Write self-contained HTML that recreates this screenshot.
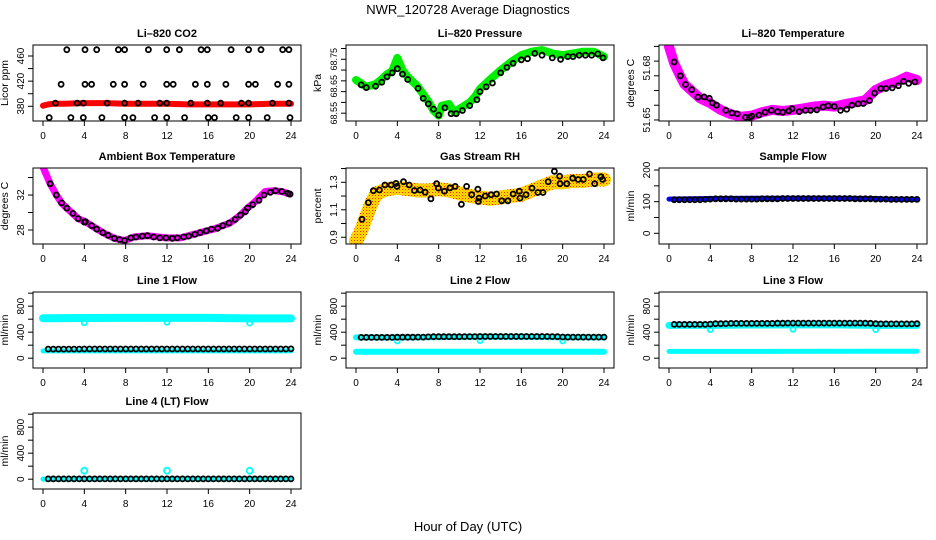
<!DOCTYPE html>
<html><head><meta charset="utf-8"><style>
html,body{margin:0;padding:0;background:#fff}
svg{display:block}
text{font-family:"Liberation Sans",sans-serif}
</style></head><body>
<svg id="chart" width="936" height="540" viewBox="0 0 936 540" xmlns="http://www.w3.org/2000/svg">
<defs>
<pattern id="rhpat" width="3" height="3" patternUnits="userSpaceOnUse"><rect width="3" height="3" fill="#ffe000"/><rect x="0" y="0" width="1" height="1" fill="#ff2000"/><rect x="1.5" y="1.5" width="1" height="1" fill="#ff8000"/></pattern>
</defs>
<text x="468" y="14" text-anchor="middle" font-size="13">NWR_120728  Average Diagnostics</text>
<text x="468" y="531" text-anchor="middle" font-size="13">Hour of Day (UTC)</text>
</svg>
<script>
// ---- data ----
const xTicks = [0,4,8,12,16,20,24];
// CO2
const co2BandHours = [0,0.5,1,2,4,6,8,10,12,14,16,18,20,22,24];
const co2BandValues = [381,383,384,384,385,385,384,384,384,383,383,383,383,384,384];
const co2BlackHours = [2.3,4.06,5.2,7.3,7.9,10.2,11.97,13.2,15.3,15.9,18.2,19.9,21.1,23.2,23.8,
 1.75,4.06,4.7,6.8,7.9,9.7,11.97,12.6,14.75,15.9,17.7,19.9,20.55,22.7,23.8,
 1.2,3.3,3.9,6.2,7.9,9.2,11.3,11.97,14.3,15.9,17.2,19.2,19.9,22.2,23.8,
 0.6,2.7,3.9,5.7,7.9,8.7,10.8,11.97,13.7,16,16.6,18.7,19.9,21.7,23.9];
const co2BlackValues = [470,470,470,470,470,470,470,470,470,470,470,470,470,470,470,
 415,415,415,415,415,415,415,415,415,415,415,415,415,415,415,
 385,385,385,385,385,385,385,385,385,385,385,385,385,385,385,
 362,362,362,362,362,362,362,362,362,362,362,362,362,362,362];
// Pressure
const presBandHours = [0,1,1.9,2.5,3,3.5,4,4.5,5,6,6.5,7,7.5,8,8.3,9,9.5,10,11,11.5,12,12.5,13,14,15,16,17,18,19,20,21,22,23,24];
const presBandValues = [68.673,68.648,68.658,68.676,68.695,68.707,68.755,68.71,68.685,68.648,68.62,68.594,68.56,68.541,68.578,68.584,68.553,68.566,68.59,68.61,68.64,68.658,68.676,68.71,68.74,68.765,68.778,68.784,68.772,68.765,68.772,68.778,68.778,68.76];
const presBlackHours = [0.5,1,1.9,2.5,3,3.5,4,4.5,5,6,6.5,7,7.5,8,8.6,9.2,9.7,10.3,11,11.7,12,12.6,13.2,14,14.6,15.2,16,16.6,17.3,18,19,19.8,20.5,21,21.6,22.2,22.8,23.4,23.9];
const presBlackValues = [68.655,68.645,68.65,68.665,68.685,68.7,68.715,68.695,68.675,68.642,68.605,68.585,68.565,68.543,68.57,68.548,68.548,68.56,68.578,68.6,68.63,68.648,68.662,68.7,68.72,68.735,68.748,68.752,68.772,68.765,68.755,68.75,68.76,68.76,68.765,68.765,68.765,68.77,68.755];
// Li-820 temperature
const ltBandHours = [0,0.5,1,1.5,2,3,4,5,6,7,8,9,10,11,12,13,14,15,16,17,18,19,20,21,22,23,24];
const ltBandValues = [51.6923,51.6827,51.6764,51.6706,51.6679,51.6625,51.6596,51.6558,51.6533,51.6519,51.6525,51.6544,51.6558,51.6552,51.6558,51.6567,51.6577,51.6583,51.6577,51.6591,51.6602,51.6615,51.6673,51.6702,51.6721,51.675,51.6731];
const ltBlackHours = [0.5,1.1,1.6,2.2,2.8,3.4,3.9,4.2,4.6,5.5,6.1,6.6,7.4,7.8,8,8.7,9.3,9.9,10.5,11,11.6,11.9,12.6,13.2,13.7,14.3,14.9,15.4,16,16.6,17.2,17.7,18.3,18.8,19.4,19.9,20.5,21,21.6,22.2,22.7,23.2,23.8];
const ltBlackValues = [51.6835,51.6755,51.6705,51.6675,51.6632,51.6633,51.6625,51.6598,51.6585,51.6555,51.654,51.6535,51.6515,51.6515,51.6522,51.6528,51.6545,51.6555,51.6548,51.6545,51.6553,51.6565,51.6548,51.6555,51.6555,51.6558,51.6575,51.6582,51.6578,51.6555,51.6562,51.6585,51.6593,51.6595,51.6612,51.6655,51.6682,51.6682,51.6685,51.6698,51.6723,51.6712,51.672];
// Ambient box temperature
const ambBandHours = [0,0.7,1.3,1.8,2.3,3.4,4.1,4.7,5.8,6.9,7.9,8.8,10.1,11.9,13.3,15.2,16.5,18.1,19.1,19.8,20.5,21.5,22.3,23.1,23.9];
const ambBandValues = [35.2,33.3,32.0,31.1,30.5,29.3,28.95,28.5,27.7,27.05,26.8,27.2,27.35,27.1,27.1,27.7,28.1,28.8,29.7,30.5,31.2,32.4,32.5,32.4,32.1];
const ambBlackHours = [0.7,1.3,1.8,2.3,2.9,3.4,4.0,4.1,4.7,5.2,5.8,6.3,6.9,7.4,7.9,8.5,9.0,9.6,10.1,10.7,11.3,11.9,12.5,13.0,13.6,14.1,14.7,15.2,15.8,16.3,16.9,17.4,18.0,18.6,19.1,19.6,19.8,20.3,20.9,21.4,22.0,22.5,23.1,23.7,23.9];
const ambBlackValues = [33.3,32.0,31.1,30.5,29.9,29.3,28.9,28.95,28.5,28.1,27.7,27.4,27.05,26.9,26.8,27.1,27.2,27.3,27.35,27.2,27.1,27.1,27.05,27.1,27.2,27.3,27.5,27.7,27.9,28.1,28.2,28.5,28.8,29.2,29.7,30.1,30.5,30.9,31.4,32.0,32.3,32.5,32.4,32.2,32.1];
// Gas stream RH
const rhBandHours = [0,0.5,1,1.5,2,3,4,5,6,7,8,9,10,11,12,13,14,15,16,17,18,19,20,21,22,23,24];
const rhBandValues = [0.87,0.95,1.05,1.15,1.22,1.25,1.26,1.25,1.24,1.24,1.25,1.24,1.22,1.2,1.19,1.18,1.19,1.2,1.21,1.24,1.27,1.3,1.3,1.31,1.31,1.32,1.32];
const rhBlackHours = [0.58,1.2,1.68,2.26,2.8,3.4,3.87,3.97,4.6,5.15,5.65,6.2,6.7,7.25,7.8,7.97,8.55,9.1,9.6,10.2,10.7,11.2,11.8,11.84,11.9,12.5,13.07,13.6,14.1,14.7,15.2,15.8,15.87,16.45,17.03,17.6,18.1,18.6,19.2,19.7,19.74,20.4,20.97,21.5,22.0,22.6,23.1,23.7,23.87];
const rhBlackValues = [1.031,1.152,1.239,1.244,1.28,1.28,1.292,1.27,1.304,1.28,1.24,1.244,1.228,1.18,1.29,1.258,1.235,1.26,1.27,1.14,1.27,1.21,1.25,1.16,1.185,1.2,1.21,1.215,1.165,1.165,1.215,1.235,1.185,1.21,1.258,1.226,1.226,1.304,1.38,1.344,1.29,1.29,1.33,1.32,1.32,1.36,1.29,1.34,1.32];
// Flows (shared black-circle hours)
const flowHours = [0.5,1,1.5,2,2.5,3,3.5,4,4.5,5,5.5,6,6.5,7,7.5,8,8.5,9,9.5,10,10.5,11,11.5,12,12.5,13,13.5,14,14.5,15,15.5,16,16.5,17,17.5,18,18.5,19,19.5,20,20.5,21,21.5,22,22.5,23,23.5,24];
const sampleBandHours = [0,4,8,12,16,20,21,24];
const sampleBandValues = [108,110,111,111,111,110,108,107];
const sampleBlack = [106,106,106,106,106,106,107,108,109,109,109,109,108,108,108,108,108,109,109,109,109,110,110,110,110,110,110,110,110,110,110,110,110,110,110,109,109,109,109,108,108,108,107,107,107,107,107,107];
const line1HiHours = [0,4,8,12,16,20,24];
const line1HiValues = [615,618,620,620,620,612,612];
const line1LoHours = [0,24];
const line1LoValues = [112,112];
const line1DipHours = [4,12,20];
const line1DipValues = [545,550,540];
const line1Black = [140,140,140,140,140,140,140,142,142,142,142,142,142,142,142,142,142,142,142,142,142,142,142,142,142,142,142,142,142,142,142,142,142,142,142,142,142,142,142,142,142,142,142,142,142,142,142,143];
const line2HiHours = [0,4,8,12,16,20,24];
const line2HiValues = [320,318,325,330,330,322,320];
const line2LoHours = [0,24];
const line2LoValues = [100,100];
const line2DipHours = [4,12,20];
const line2DipValues = [265,270,265];
const line2Black = [320,320,320,320,320,320,320,322,322,322,322,325,325,328,330,330,330,330,330,330,332,332,332,334,334,334,334,334,334,334,334,334,334,334,334,334,334,332,330,326,324,324,324,324,324,324,324,324];
const line3HiHours = [0,4,8,12,16,20,24];
const line3HiValues = [505,505,510,512,512,505,505];
const line3LoHours = [0,24];
const line3LoValues = [105,108];
const line3DipHours = [4,12,20];
const line3DipValues = [440,445,440];
const line3Black = [520,520,520,520,520,520,520,525,530,530,532,535,535,535,535,535,535,535,535,535,538,538,540,540,540,540,540,540,540,540,540,540,540,540,540,540,540,538,536,530,528,528,528,528,528,528,528,530];
const line4LoHours = [0,24];
const line4LoValues = [2,2];
const line4DipHours = [4,12,20];
const line4DipValues = [130,130,130];
const line4Black = [5,5,5,5,5,5,5,5,5,5,5,5,5,5,5,5,5,5,5,5,5,5,5,5,5,5,5,5,5,5,5,5,5,5,5,5,5,5,5,5,5,5,5,5,5,5,5,5];

// ---- layout ----
const NS = 'http://www.w3.org/2000/svg';
const svg = document.getElementById('chart');
const rowTops = [45,168,292,413];
const boxH = 76, boxW = 268;
function mk(tag, attrs, parent){
  const e = document.createElementNS(NS, tag);
  for (const k in attrs) e.setAttribute(k, attrs[k]);
  parent.appendChild(e); return e;
}
const panels = [
 {key:'co2', title:'Li\u2013820 CO2', ylab:'Licor ppm', r:0,c:0, ymin:356.6, ymax:477.5, ticks:[380,400,420,440,460], labels:[380,420,460]},
 {key:'pressure', title:'Li\u2013820 Pressure', ylab:'kPa', r:0,c:1, ymin:68.521, ymax:68.803, ticks:[68.55,68.59,68.63,68.67,68.71,68.75,68.79], labels:['68.55','68.65','68.75'], lfs:9},
 {key:'li-temp', title:'Li\u2013820 Temperature', ylab:'degrees C', r:0,c:2, ymin:51.6494, ymax:51.6933, ticks:[51.65,51.6585,51.667,51.6755,51.684,51.6925], labels:['51.65','51.68']},
 {key:'ambient', title:'Ambient Box Temperature', ylab:'degrees C', r:1,c:0, ymin:26.4, ymax:35.09, ticks:[28,30,32,34], labels:[28,32]},
 {key:'rh', title:'Gas Stream RH', ylab:'percent', r:1,c:1, ymin:0.851, ymax:1.404, ticks:[0.9,1.0,1.1,1.2,1.3,1.4], labels:['0.9','1.1','1.3']},
 {key:'sample-flow', title:'Sample Flow', ylab:'ml/min', r:1,c:2, ymin:-33.8, ymax:206.3, ticks:[0,50,100,150,200], labels:[0,100,200]},
 {key:'line1', title:'Line 1 Flow', ylab:'ml/min', r:2,c:0, ymin:-151, ymax:1018, ticks:[0,200,400,600,800,1000], labels:[0,400,800]},
 {key:'line2', title:'Line 2 Flow', ylab:'ml/min', r:2,c:1, ymin:-151, ymax:1018, ticks:[0,200,400,600,800,1000], labels:[0,400,800]},
 {key:'line3', title:'Line 3 Flow', ylab:'ml/min', r:2,c:2, ymin:-151, ymax:1018, ticks:[0,200,400,600,800,1000], labels:[0,400,800]},
 {key:'line4', title:'Line 4 (LT) Flow', ylab:'ml/min', r:3,c:0, ymin:-151, ymax:1018, ticks:[0,200,400,600,800,1000], labels:[0,400,800]}
];
function sx(p,h){ return p.L + 10 + h*248/24; }
function sy(p,v){ return p.T + (p.ymax - v)/(p.ymax - p.ymin)*boxH; }

function band(p, g, hours, vals, color, width, name){
  const pts = hours.map((h,i)=> sx(p,h).toFixed(1)+','+sy(p,vals[i]).toFixed(1)).join(' ');
  const pl = mk('polyline',{points:pts, fill:'none', stroke:color, 'stroke-width':width, 'stroke-linejoin':'round','stroke-linecap':'round'}, g);
  
  
}
function dots(p, g, hours, vals, color, name, r){
  const gg = mk('g',{}, g);
  
  
  hours.forEach((h,i)=>{
    const c = mk('circle',{cx:sx(p,h).toFixed(1), cy:sy(p,vals[i]).toFixed(1), r:r||2.5, fill:'none', stroke:color, 'stroke-width':1.8}, gg);
    
    
  });
}

panels.forEach(p=>{
  p.L = 33 + 313*p.c; p.T = rowTops[p.r];
  const g = mk('g',{}, svg);
  
  
  const clip = mk('clipPath',{id:'clip-'+p.key}, g);
  mk('rect',{x:p.L, y:p.T, width:boxW, height:boxH}, clip);
  const t = mk('text',{x:p.L+boxW/2, y:p.T-8, 'text-anchor':'middle', 'font-size':11, 'font-weight':'bold'}, g);
  t.textContent = p.title;
  
  
  const data = mk('g',{'clip-path':'url(#clip-'+p.key+')'}, g);
  
  
  const box = mk('rect',{x:p.L, y:p.T, width:boxW, height:boxH, fill:'none', stroke:'#000', 'stroke-width':1}, g);
  
  
  const xa = mk('g',{}, g);
  
  
  const yb = p.T+boxH;
  xTicks.forEach(h=>{
    mk('line',{x1:sx(p,h), x2:sx(p,h), y1:yb, y2:yb+5, stroke:'#000'}, xa);
    const tl = mk('text',{x:sx(p,h), y:yb+18, 'text-anchor':'middle', 'font-size':10}, xa);
    tl.textContent = h;
    
    
  });
  const ya = mk('g',{}, g);
  
  
  p.ticks.forEach(v=>{ mk('line',{x1:p.L-5, x2:p.L, y1:sy(p,v), y2:sy(p,v), stroke:'#000'}, ya); });
  p.labels.forEach(v=>{
    const yy = sy(p, +v), xx = p.L-9;
    const tl = mk('text',{x:xx, y:yy, 'text-anchor':'middle', 'font-size':p.lfs||10, transform:'rotate(-90 '+xx+' '+yy+')'}, ya);
    tl.textContent = v;
    
    
  });
  const yt = mk('text',{x:p.L-25, y:p.T+boxH/2, 'text-anchor':'middle', 'font-size':10.5, transform:'rotate(-90 '+(p.L-25)+' '+(p.T+boxH/2)+')'}, g);
  yt.textContent = p.ylab;
  
  
  p.g = data;
});

const P = k => panels.find(p=>p.key===k);
let p;
p=P('co2'); band(p,p.g,co2BandHours,co2BandValues,'#ff0000',6,'co2-band'); dots(p,p.g,co2BlackHours,co2BlackValues,'#000','co2-avg');
p=P('pressure'); band(p,p.g,presBandHours,presBandValues,'#00ee00',8,'pressure-band'); dots(p,p.g,presBlackHours,presBlackValues,'#000','pressure-avg');
p=P('li-temp'); band(p,p.g,ltBandHours,ltBandValues,'#ff00ff',10,'li-temp-band'); dots(p,p.g,ltBlackHours,ltBlackValues,'#000','li-temp-avg');
p=P('ambient'); band(p,p.g,ambBandHours,ambBandValues,'#ff00ff',7,'ambient-band'); dots(p,p.g,ambBlackHours,ambBlackValues,'#000','ambient-avg');
p=P('rh'); band(p,p.g,rhBandHours,rhBandValues,'url(#rhpat)',14,'rh-band'); dots(p,p.g,rhBlackHours,rhBlackValues,'#000','rh-avg');
p=P('sample-flow'); band(p,p.g,sampleBandHours,sampleBandValues,'#0000ff',5,'sample-flow-band'); dots(p,p.g,flowHours,sampleBlack,'#000','sample-flow-avg');
p=P('line1'); band(p,p.g,line1HiHours,line1HiValues,'#00ffff',8,'line1-band-high'); band(p,p.g,line1LoHours,line1LoValues,'#00ffff',5,'line1-band-low'); dots(p,p.g,line1DipHours,line1DipValues,'#00ffff','line1-dips'); dots(p,p.g,flowHours,line1Black,'#000','line1-avg');
p=P('line2'); band(p,p.g,line2HiHours,line2HiValues,'#00ffff',6,'line2-band-high'); band(p,p.g,line2LoHours,line2LoValues,'#00ffff',6,'line2-band-low'); dots(p,p.g,line2DipHours,line2DipValues,'#00ffff','line2-dips'); dots(p,p.g,flowHours,line2Black,'#000','line2-avg');
p=P('line3'); band(p,p.g,line3HiHours,line3HiValues,'#00ffff',7,'line3-band-high'); band(p,p.g,line3LoHours,line3LoValues,'#00ffff',5,'line3-band-low'); dots(p,p.g,line3DipHours,line3DipValues,'#00ffff','line3-dips'); dots(p,p.g,flowHours,line3Black,'#000','line3-avg');
p=P('line4'); band(p,p.g,line4LoHours,line4LoValues,'#00ffff',5,'line4-band'); dots(p,p.g,line4DipHours,line4DipValues,'#00ffff','line4-spikes',3); dots(p,p.g,flowHours,line4Black,'#000','line4-avg');
</script>
</body></html>
